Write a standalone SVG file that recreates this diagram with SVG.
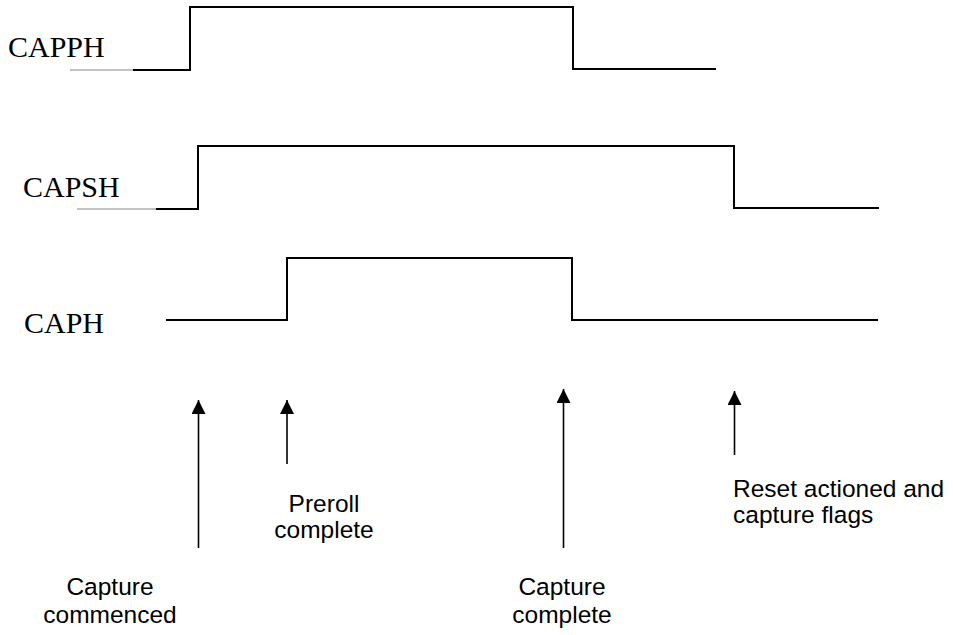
<svg xmlns="http://www.w3.org/2000/svg" width="953" height="635" viewBox="0 0 953 635">
<style>
.sig{fill:none;stroke:#000;stroke-width:2;stroke-linejoin:miter}
.lead{stroke:#888;stroke-width:1.2}
.lbl{font-family:"Liberation Serif","Times New Roman",serif;font-size:30px;fill:#000}
.note{font-family:"Liberation Sans",Arial,sans-serif;font-size:24.5px;fill:#000}
.arr{stroke:#000;stroke-width:1.6;marker-end:url(#ah)}
</style>
<defs>
<marker id="ah" viewBox="0 0 14 14" markerWidth="14" markerHeight="14" refX="14" refY="7" orient="auto" markerUnits="userSpaceOnUse">
<path d="M0,0 L14,7 L0,14 Z" fill="#000"/>
</marker>
</defs>
<g id="capph">
<text class="lbl" x="8" y="57">CAPPH</text>
<line class="lead" x1="70" y1="70" x2="133" y2="70"/>
<polyline class="sig" points="133,70 190,70 190,7 573,7 573,69 716,69"/>
</g>
<g id="capsh">
<text class="lbl" x="23" y="197">CAPSH</text>
<line class="lead" x1="77" y1="209" x2="156" y2="209"/>
<polyline class="sig" points="156,209 198,209 198,146 734,146 734,208 879,208"/>
</g>
<g id="caph">
<text class="lbl" x="24" y="333">CAPH</text>
<polyline class="sig" points="166,320 287,320 287,258 572,258 572,320 878,320"/>
</g>
<g id="connectors">
<line class="arr" x1="198.5" y1="548" x2="198.5" y2="400"/>
<line class="arr" x1="287" y1="464" x2="287" y2="400"/>
<line class="arr" x1="563.5" y1="548" x2="563.5" y2="389"/>
<line class="arr" x1="734.5" y1="455" x2="734.5" y2="391"/>
</g>
<g id="preroll">
<text class="note" text-anchor="middle"><tspan x="324" y="512">Preroll</tspan><tspan x="324" y="538">complete</tspan></text>
</g>
<g id="reset">
<text class="note"><tspan x="733" y="497">Reset actioned and</tspan><tspan x="733" y="523">capture flags</tspan></text>
</g>
<g id="commenced">
<text class="note" text-anchor="middle"><tspan x="110" y="595">Capture</tspan><tspan x="110" y="623">commenced</tspan></text>
</g>
<g id="complete">
<text class="note" text-anchor="middle"><tspan x="562" y="595">Capture</tspan><tspan x="562" y="623">complete</tspan></text>
</g>
</svg>
